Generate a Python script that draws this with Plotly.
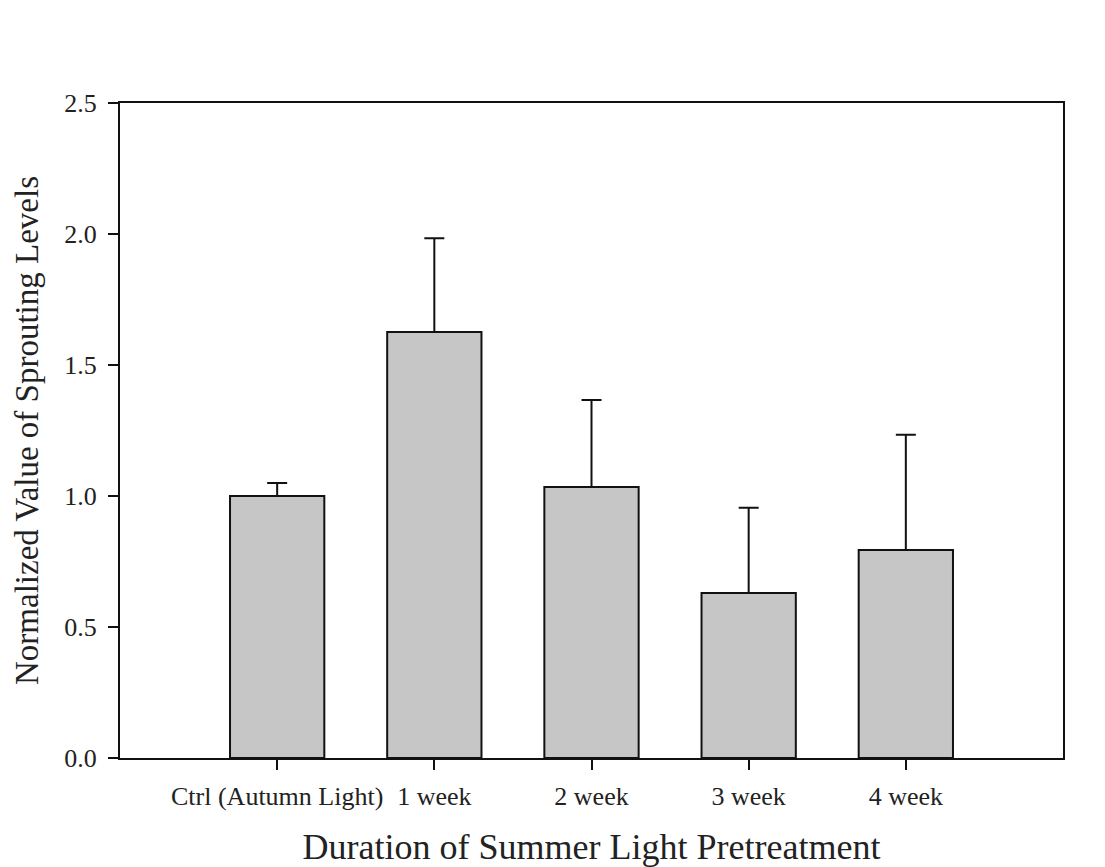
import plotly.graph_objects as go

# Sprouting levels after summer-light pretreatment (normalized to control)
categories = ["Ctrl (Autumn Light)", "1 week", "2 week", "3 week", "4 week"]
means = [1.00, 1.626, 1.034, 0.630, 0.794]
errors_plus = [0.050, 0.358, 0.332, 0.325, 0.440]
positions = list(range(len(categories)))
y_ticks = [0.0, 0.5, 1.0, 1.5, 2.0, 2.5]

FONT = "Liberation Serif, Times New Roman, serif"

fig = go.Figure(
    go.Bar(
        x=positions,
        y=means,
        width=0.6,
        marker=dict(color="#c6c6c6", line=dict(color="#111111", width=2)),
        error_y=dict(
            type="data",
            symmetric=False,
            array=errors_plus,
            arrayminus=[0] * len(means),
            color="#111111",
            thickness=2,
            width=10,
        ),
        showlegend=False,
    )
)

axis_common = dict(
    showline=True,
    linecolor="#111111",
    linewidth=2,
    mirror=True,
    showgrid=False,
    zeroline=False,
    ticks="outside",
    ticklen=10,
    tickwidth=2,
    tickcolor="#111111",
    automargin=False,
    tickfont=dict(family=FONT, size=26, color="#222222"),
)

fig.update_xaxes(
    range=[-1, 5],
    tickmode="array",
    tickvals=positions,
    ticktext=categories,
    ticklabelstandoff=4,
    title=dict(text="Duration of Summer Light Pretreatment",
               font=dict(family=FONT, size=36, color="#222222"),
               standoff=24),
    **axis_common,
)
fig.update_yaxes(
    range=[0, 2.5],
    tickmode="array",
    tickvals=y_ticks,
    tickformat=".1f",
    ticklabelstandoff=6,
    title=dict(text="Normalized Value of Sprouting Levels",
               font=dict(family=FONT, size=33, color="#222222"),
               standoff=16),
    **axis_common,
)

fig.update_layout(
    width=1105,
    height=867,
    margin=dict(l=120, r=42, t=103, b=109),
    paper_bgcolor="white",
    plot_bgcolor="white",
)

fig.write_html("out.html")
